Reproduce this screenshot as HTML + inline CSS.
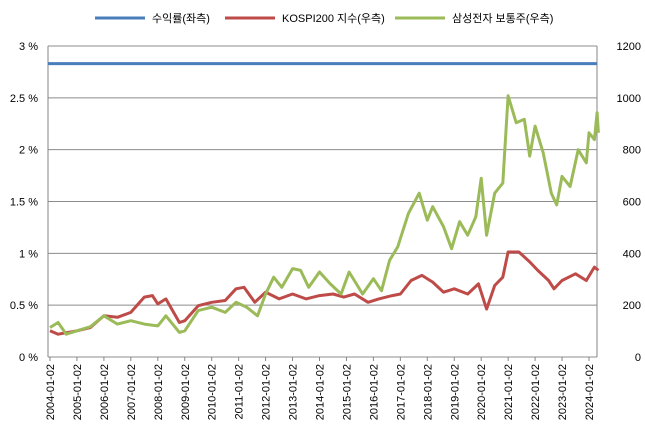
<!DOCTYPE html>
<html><head><meta charset="utf-8"><style>
html,body{margin:0;padding:0;background:#fff;}
svg text{font-family:"Liberation Sans","Noto Sans CJK KR",sans-serif;fill:#000;}
</style></head><body>
<svg id="chart" width="645" height="436" xmlns="http://www.w3.org/2000/svg"></svg>
<script>
const leftTicks = ["0 %","0.5 %","1 %","1.5 %","2 %","2.5 %","3 %"];
const rightTicks = ["0","200","400","600","800","1000","1200"];
const yearLabels = ["2004-01-02","2005-01-02","2006-01-02","2007-01-02","2008-01-02","2009-01-02","2010-01-02","2011-01-02","2012-01-02","2013-01-02","2014-01-02","2015-01-02","2016-01-02","2017-01-02","2018-01-02","2019-01-02","2020-01-02","2021-01-02","2022-01-02","2023-01-02","2024-01-02"];
const returnRate = 2.83;
const samsungT = [2004.0,2004.3,2004.6,2005.0,2005.5,2006.0,2006.5,2007.0,2007.5,2008.0,2008.3,2008.8,2009.0,2009.5,2010.0,2010.5,2010.9,2011.3,2011.7,2012.0,2012.3,2012.6,2013.0,2013.3,2013.6,2014.0,2014.4,2014.8,2015.1,2015.6,2016.0,2016.3,2016.6,2016.9,2017.3,2017.7,2018.0,2018.2,2018.6,2018.9,2019.2,2019.5,2019.8,2020.0,2020.2,2020.5,2020.8,2021.0,2021.3,2021.6,2021.8,2022.0,2022.3,2022.6,2022.8,2023.0,2023.3,2023.6,2023.9,2024.0,2024.2,2024.3,2024.35];
const samsungV = [114,133,88,101,117,159,127,140,127,120,159,95,101,179,192,172,211,192,159,243,308,269,341,334,269,328,282,243,328,243,302,256,373,425,554,632,528,580,503,418,522,470,541,690,470,632,671,1008,904,917,775,891,788,632,587,697,658,800,749,865,839,943,865];
const kospiT = [2004.0,2004.3,2005.0,2005.5,2006.0,2006.5,2007.0,2007.5,2007.8,2008.0,2008.3,2008.8,2009.0,2009.5,2010.0,2010.5,2010.9,2011.2,2011.6,2012.0,2012.5,2013.0,2013.5,2014.0,2014.5,2014.9,2015.3,2015.8,2016.2,2016.7,2017.0,2017.4,2017.8,2018.2,2018.6,2019.0,2019.5,2019.9,2020.2,2020.5,2020.8,2021.0,2021.4,2021.8,2022.1,2022.5,2022.7,2023.0,2023.5,2023.9,2024.2,2024.35];
const kospiV = [101,88,101,114,159,153,172,231,237,205,224,133,140,198,211,218,263,269,211,250,224,243,224,237,243,231,243,211,224,237,243,295,315,289,250,263,243,282,185,276,308,405,405,367,334,295,263,295,321,295,347,334];

const NS="http://www.w3.org/2000/svg";
const svg=document.getElementById('chart');
const X0=48,X1=597,Y0=357,Y1=46;
const xT=t=>50+(t-2004)*(589-50)/20;
const yR=v=>Y0-(v/1200)*(Y0-Y1);
const yL=p=>Y0-(p/3)*(Y0-Y1);
function mk(tag,attrs,parent){const e=document.createElementNS(NS,tag);for(const k in attrs)e.setAttribute(k,attrs[k]);(parent||svg).appendChild(e);return e;}

for(let i=0;i<leftTicks.length;i++){
  const y=yL(i*0.5);
  const g=mk('line',{x1:X0,x2:X1,y1:y,y2:y,stroke:'#8c8c8c','stroke-width':1});
  
  
  const t=mk('text',{x:38,y:y+4,'font-size':11,'text-anchor':'end'});t.textContent=leftTicks[i];
  
  
  const r=mk('text',{x:641,y:y+4,'font-size':11,'text-anchor':'end'});r.textContent=rightTicks[i];
  
  
}
const ax1=mk('line',{x1:X0,x2:X0,y1:Y1,y2:Y0,stroke:'#868686'});


const ax2=mk('line',{x1:X1,x2:X1,y1:Y1,y2:Y0,stroke:'#868686'});



yearLabels.forEach((s,i)=>{
  const x=xT(2004+i);
  const tk=mk('line',{x1:x,x2:x,y1:Y0,y2:Y0+4,stroke:'#868686'});
  
  
  const t=mk('text',{x:0,y:0,'font-size':11,'text-anchor':'end',transform:`translate(${x+4},${Y0+7}) rotate(-90)`});
  t.textContent=s;
  
  
});

function line(ts,vs,color,name){
  const d=ts.map((t,i)=>(i?'L':'M')+xT(t).toFixed(1)+','+yR(vs[i]).toFixed(1)).join('');
  const p=mk('path',{d:d,fill:'none',stroke:color,'stroke-width':3,'stroke-linejoin':'round'});
  
  
}
line(kospiT,kospiV,'#be4b48','kospi200-line');
line(samsungT,samsungV,'#9bbb59','samsung-line');
const bl=mk('line',{x1:X0,x2:X1,y1:yL(returnRate),y2:yL(returnRate),stroke:'#4a7ebb','stroke-width':3});



const leg=[[95,'#4a7ebb','수익률(좌측)'],[225,'#be4b48','KOSPI200 지수(우측)'],[395,'#9bbb59','삼성전자 보통주(우측)']];
leg.forEach(l=>{
  const s=mk('line',{x1:l[0],x2:l[0]+50,y1:18,y2:18,stroke:l[1],'stroke-width':3});
  
  
  const t=mk('text',{x:l[0]+57,y:22,'font-size':11});t.textContent=l[2];
  
  
});
</script>
</body></html>
